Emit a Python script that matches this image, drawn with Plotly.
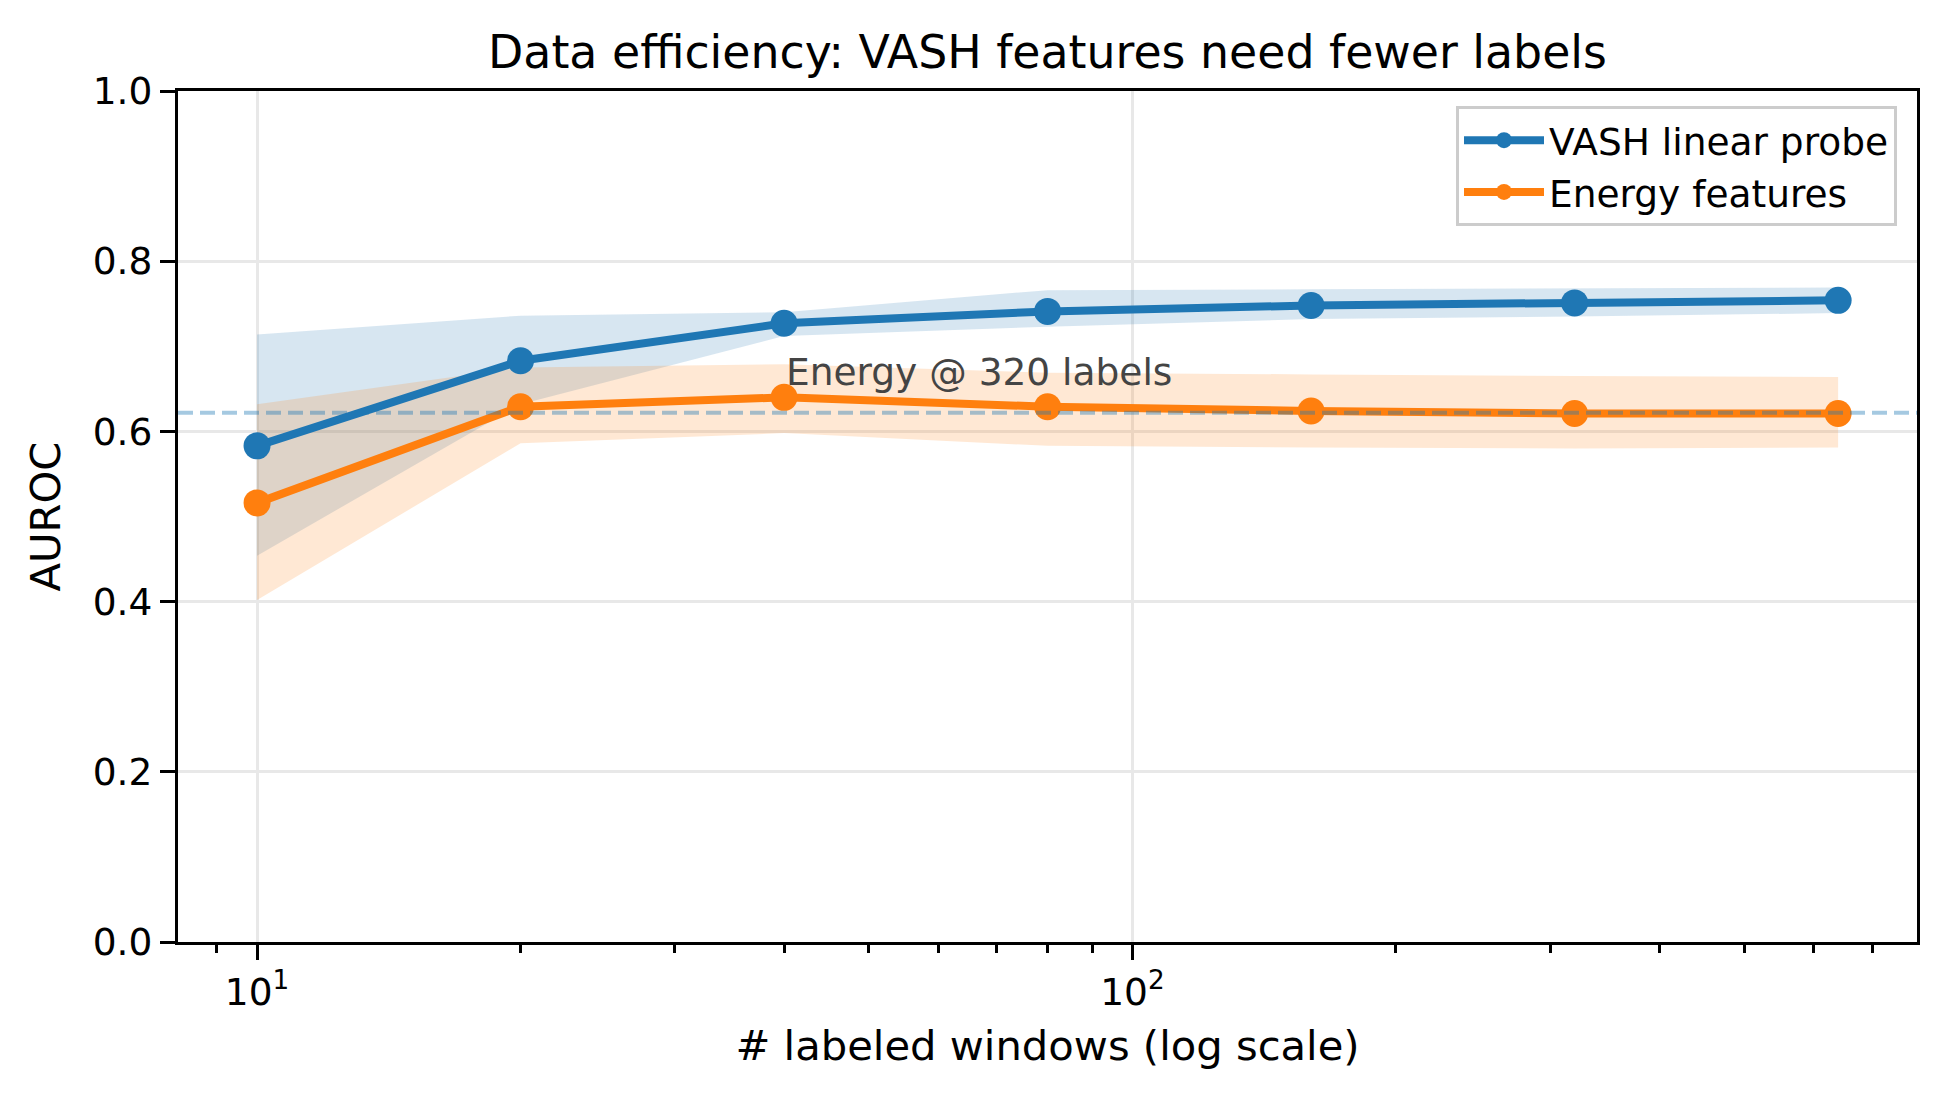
import math
import plotly.graph_objects as go

# ---- data ----
n_labels = [10, 20, 40, 80, 160, 320, 640]
vash_mean = [0.583, 0.683, 0.727, 0.741, 0.748, 0.751, 0.754]
vash_low = [0.454, 0.632, 0.712, 0.723, 0.732, 0.735, 0.739]
vash_high = [0.714, 0.736, 0.740, 0.766, 0.767, 0.768, 0.769]
energy_mean = [0.516, 0.629, 0.640, 0.629, 0.624, 0.621, 0.621]
energy_low = [0.402, 0.586, 0.598, 0.583, 0.581, 0.580, 0.581]
energy_high = [0.632, 0.675, 0.679, 0.669, 0.667, 0.665, 0.664]
energy_ref = 0.622
ref_label = "Energy @ 320 labels"
ref_label_x = 40
ref_label_y = 0.652
series_names = ["VASH linear probe", "Energy features"]
y_ticks = [0.0, 0.2, 0.4, 0.6, 0.8, 1.0]
x_major = [10, 100]
x_major_text = ["10<sup>1</sup>", "10<sup>2</sup>"]
x_minor = [9, 20, 30, 40, 50, 60, 70, 80, 90, 200, 300, 400, 500, 600, 700, 800]

BLUE = "#1f77b4"
ORANGE = "#ff7f0e"
FONT = "DejaVu Sans"

fig = go.Figure()

def band(x, lo, hi, color):
    fig.add_trace(go.Scatter(x=x, y=lo, mode="lines", line=dict(width=0),
                             showlegend=False, hoverinfo="skip"))
    fig.add_trace(go.Scatter(x=x, y=hi, mode="lines", line=dict(width=0),
                             fill="tonexty", fillcolor=color,
                             showlegend=False, hoverinfo="skip"))

band(n_labels, vash_low, vash_high, "rgba(31,119,180,0.18)")
band(n_labels, energy_low, energy_high, "rgba(255,127,14,0.18)")

fig.add_trace(go.Scatter(x=n_labels, y=vash_mean, mode="lines+markers",
                         name=series_names[0],
                         line=dict(color=BLUE, width=8),
                         marker=dict(color=BLUE, size=27, line=dict(width=0))))
fig.add_trace(go.Scatter(x=n_labels, y=energy_mean, mode="lines+markers",
                         name=series_names[1],
                         line=dict(color=ORANGE, width=8),
                         marker=dict(color=ORANGE, size=27, line=dict(width=0))))

fig.add_shape(type="line", xref="paper", x0=0, x1=1, yref="y",
              y0=energy_ref, y1=energy_ref, layer="above",
              line=dict(color="rgba(31,119,180,0.4)", width=4, dash="15px,7px"))

fig.add_annotation(x=math.log10(ref_label_x), y=ref_label_y,
                   xref="x", yref="y", text=ref_label, showarrow=False,
                   xanchor="left", yanchor="bottom", yshift=-9,
                   font=dict(family=FONT, size=37.5, color="#444444"))

fig.update_layout(
    width=1946, height=1100,
    margin=dict(l=178, r=29, t=91, b=158),
    paper_bgcolor="white", plot_bgcolor="white",
    font=dict(family=FONT, size=37.5, color="black"),
    title=dict(text="Data efficiency: VASH features need fewer labels",
               x=(178 + 1917) / 2 / 1946, xanchor="center",
               y=1 - 52 / 1100, yanchor="middle", yref="container",
               font=dict(family=FONT, size=45.8, color="black")),
    legend=dict(x=0.9885, y=0.982, xanchor="right", yanchor="top",
                bgcolor="rgba(255,255,255,0.8)", bordercolor="#cccccc",
                borderwidth=3, font=dict(family=FONT, size=37.5),
                traceorder="normal", itemwidth=80, tracegroupgap=4),
    showlegend=True,
)

fig.update_xaxes(
    type="log", range=[0.9097, 2.8963],
    tickvals=x_major, ticktext=x_major_text,
    ticks="outside", ticklen=15, tickwidth=3.3, tickcolor="black",
    showline=True, linecolor="black", linewidth=3.3, mirror=True,
    showgrid=True, gridcolor="#e8e8e8", gridwidth=3,
    zeroline=False,
    minor=dict(tickvals=x_minor, ticks="outside", ticklen=8.3, tickwidth=2.5,
               tickcolor="black", showgrid=False),
    title=dict(text="# labeled windows (log scale)",
               font=dict(family=FONT, size=41.7), standoff=18),
    tickfont=dict(family=FONT, size=37.5),
)
fig.update_yaxes(
    range=[0, 1], tickvals=y_ticks, tickformat=".1f",
    ticks="outside", ticklen=15, tickwidth=3.3, tickcolor="black",
    showline=True, linecolor="black", linewidth=3.3, mirror=True,
    showgrid=True, gridcolor="#e8e8e8", gridwidth=3,
    zeroline=False,
    title=dict(text="AUROC", font=dict(family=FONT, size=41.7), standoff=20),
    tickfont=dict(family=FONT, size=37.5),
)

fig.write_html("out.html", config={"displayModeBar": False},
               post_script="document.body.style.margin='0';")
